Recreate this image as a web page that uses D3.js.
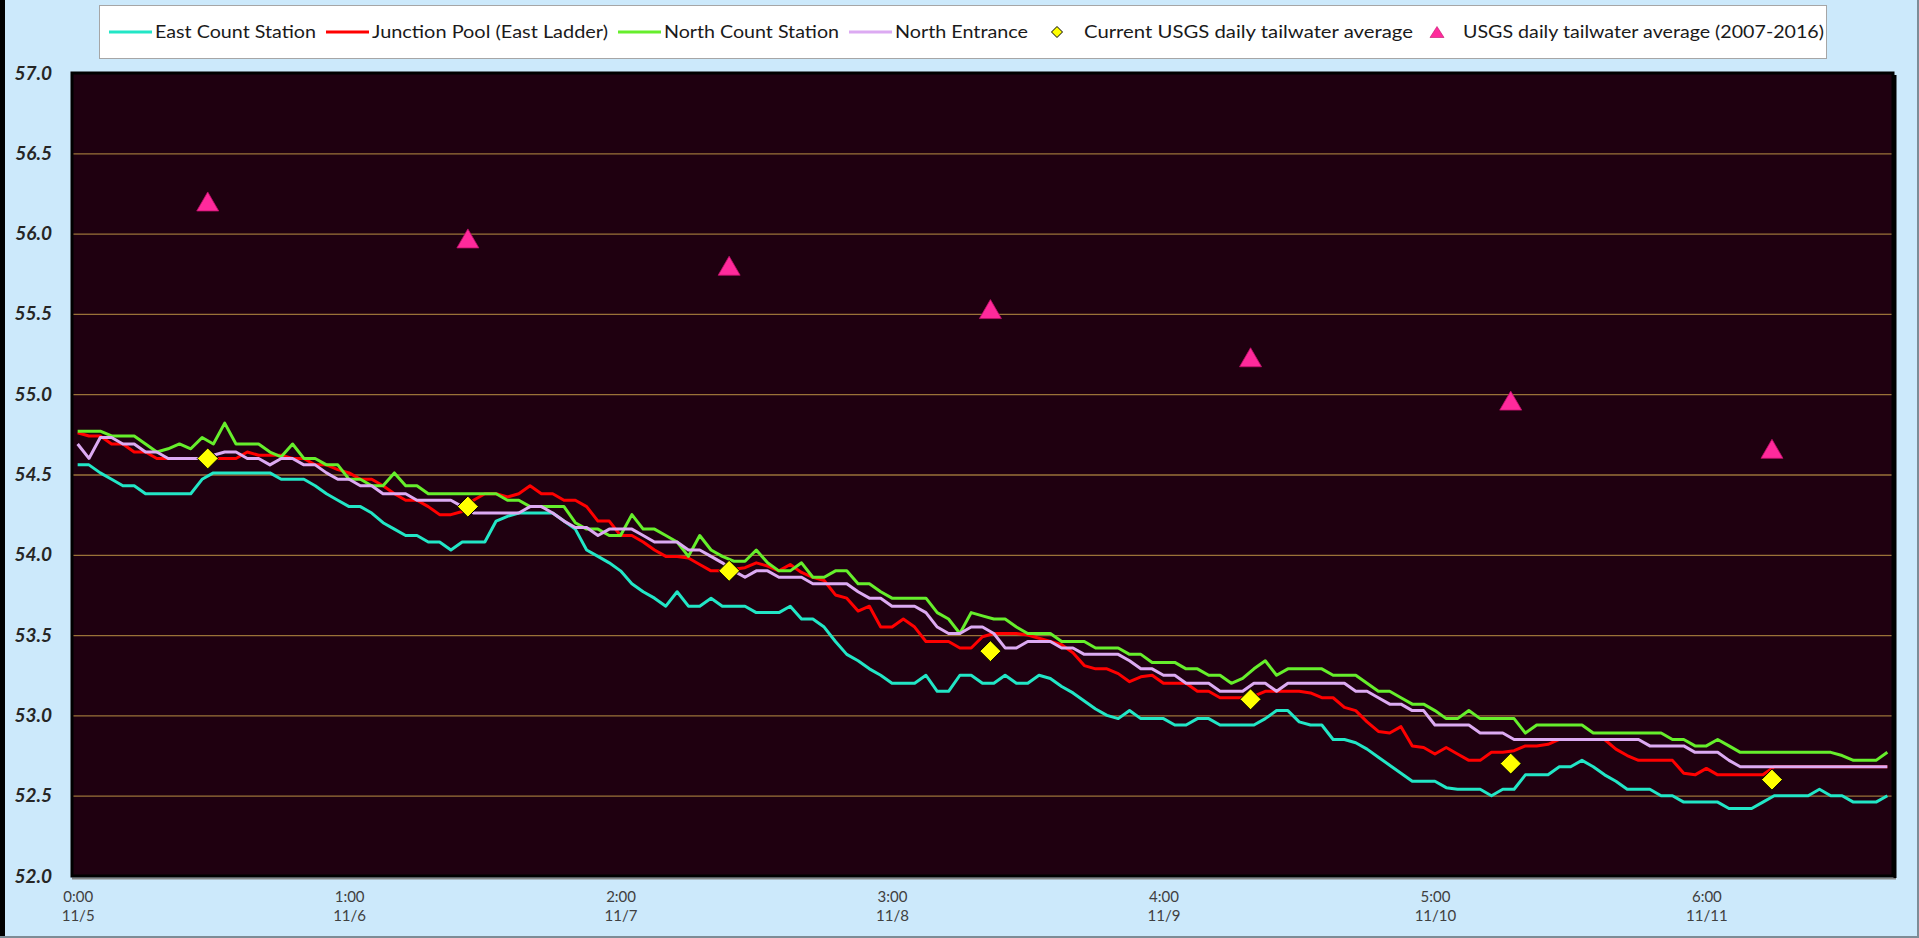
<!DOCTYPE html>
<html>
<head>
<meta charset="utf-8">
<script src="https://cdn.jsdelivr.net/npm/d3@7"></script>
<style>
  body { margin: 0; background: #cce9fb; }
  svg { display: block; }
</style>
</head>
<body>
<div id="vis"></div>
<script>
// hourly readings, 11/5 0:00 onward (one value per hour)
const eastCount = [
  54.56, 54.56, 54.51, 54.47, 54.43, 54.43, 54.38, 54.38, 54.38, 54.38,
  54.38, 54.47, 54.51, 54.51, 54.51, 54.51, 54.51, 54.51, 54.47, 54.47,
  54.47, 54.43, 54.38, 54.34, 54.30, 54.30, 54.26, 54.20, 54.16, 54.12,
  54.12, 54.08, 54.08, 54.03, 54.08, 54.08, 54.08, 54.21, 54.24, 54.26,
  54.26, 54.26, 54.26, 54.21, 54.16, 54.03, 53.99, 53.95, 53.90, 53.82,
  53.77, 53.73, 53.68, 53.77, 53.68, 53.68, 53.73, 53.68, 53.68, 53.68,
  53.64, 53.64, 53.64, 53.68, 53.60, 53.60, 53.55, 53.46, 53.38, 53.34,
  53.29, 53.25, 53.20, 53.20, 53.20, 53.25, 53.15, 53.15, 53.25, 53.25,
  53.20, 53.20, 53.25, 53.20, 53.20, 53.25, 53.23, 53.18, 53.14, 53.09,
  53.04, 53.00, 52.98, 53.03, 52.98, 52.98, 52.98, 52.94, 52.94, 52.98,
  52.98, 52.94, 52.94, 52.94, 52.94, 52.98, 53.03, 53.03, 52.96, 52.94,
  52.94, 52.85, 52.85, 52.83, 52.79, 52.74, 52.69, 52.64, 52.59, 52.59,
  52.59, 52.55, 52.54, 52.54, 52.54, 52.50, 52.54, 52.54, 52.63, 52.63,
  52.63, 52.68, 52.68, 52.72, 52.68, 52.63, 52.59, 52.54, 52.54, 52.54,
  52.50, 52.50, 52.46, 52.46, 52.46, 52.46, 52.42, 52.42, 52.42, 52.46,
  52.50, 52.50, 52.50, 52.50, 52.54, 52.50, 52.50, 52.46, 52.46, 52.46,
  52.50
];
const junctionPool = [
  54.76, 54.74, 54.74, 54.69, 54.69, 54.64, 54.64, 54.60, 54.60, 54.60,
  54.60, 54.60, 54.60, 54.60, 54.60, 54.64, 54.62, 54.62, 54.62, 54.60,
  54.60, 54.56, 54.56, 54.53, 54.51, 54.47, 54.47, 54.43, 54.38, 54.34,
  54.34, 54.30, 54.25, 54.25, 54.27, 54.34, 54.38, 54.38, 54.36, 54.38,
  54.43, 54.38, 54.38, 54.34, 54.34, 54.30, 54.21, 54.21, 54.12, 54.12,
  54.08, 54.03, 53.99, 53.99, 53.98, 53.94, 53.90, 53.90, 53.91, 53.92,
  53.95, 53.93, 53.90, 53.94, 53.89, 53.86, 53.84, 53.75, 53.73, 53.65,
  53.68, 53.55, 53.55, 53.60, 53.55, 53.46, 53.46, 53.46, 53.42, 53.42,
  53.49, 53.51, 53.51, 53.51, 53.50, 53.48, 53.46, 53.44, 53.39, 53.31,
  53.29, 53.29, 53.26, 53.21, 53.24, 53.25, 53.20, 53.20, 53.20, 53.15,
  53.15, 53.11, 53.11, 53.11, 53.12, 53.15, 53.15, 53.15, 53.15, 53.14,
  53.11, 53.11, 53.05, 53.03, 52.96, 52.90, 52.89, 52.93, 52.81, 52.80,
  52.76, 52.80, 52.76, 52.72, 52.72, 52.77, 52.77, 52.78, 52.81, 52.81,
  52.82, 52.85, 52.85, 52.85, 52.85, 52.85, 52.79, 52.75, 52.72, 52.72,
  52.72, 52.72, 52.64, 52.63, 52.67, 52.63, 52.63, 52.63, 52.63, 52.63,
  52.68, 52.68, 52.68, 52.68, 52.68, 52.68, 52.68, 52.68, 52.68, 52.68,
  52.68
];
const northCount = [
  54.77, 54.77, 54.77, 54.74, 54.74, 54.74, 54.69, 54.64, 54.66, 54.69,
  54.66, 54.73, 54.69, 54.82, 54.69, 54.69, 54.69, 54.64, 54.61, 54.69,
  54.60, 54.60, 54.56, 54.56, 54.47, 54.47, 54.43, 54.43, 54.51, 54.43,
  54.43, 54.38, 54.38, 54.38, 54.38, 54.38, 54.38, 54.38, 54.34, 54.34,
  54.30, 54.30, 54.30, 54.30, 54.20, 54.16, 54.16, 54.12, 54.12, 54.25,
  54.16, 54.16, 54.12, 54.08, 53.99, 54.12, 54.03, 53.99, 53.96, 53.96,
  54.03, 53.95, 53.90, 53.90, 53.95, 53.86, 53.86, 53.90, 53.90, 53.82,
  53.82, 53.77, 53.73, 53.73, 53.73, 53.73, 53.64, 53.60, 53.51, 53.64,
  53.62, 53.60, 53.60, 53.55, 53.51, 53.51, 53.51, 53.46, 53.46, 53.46,
  53.42, 53.42, 53.42, 53.38, 53.38, 53.33, 53.33, 53.33, 53.29, 53.29,
  53.25, 53.25, 53.20, 53.23, 53.29, 53.34, 53.25, 53.29, 53.29, 53.29,
  53.29, 53.25, 53.25, 53.25, 53.20, 53.15, 53.15, 53.11, 53.07, 53.07,
  53.03, 52.98, 52.98, 53.03, 52.98, 52.98, 52.98, 52.98, 52.89, 52.94,
  52.94, 52.94, 52.94, 52.94, 52.89, 52.89, 52.89, 52.89, 52.89, 52.89,
  52.89, 52.85, 52.85, 52.81, 52.81, 52.85, 52.81, 52.77, 52.77, 52.77,
  52.77, 52.77, 52.77, 52.77, 52.77, 52.77, 52.75, 52.72, 52.72, 52.72,
  52.77
];
const northEntrance = [
  54.69, 54.60, 54.73, 54.73, 54.69, 54.69, 54.64, 54.64, 54.60, 54.60,
  54.60, 54.60, 54.62, 54.64, 54.64, 54.60, 54.60, 54.56, 54.60, 54.60,
  54.56, 54.56, 54.51, 54.47, 54.47, 54.43, 54.43, 54.38, 54.38, 54.38,
  54.34, 54.34, 54.34, 54.34, 54.30, 54.26, 54.26, 54.26, 54.26, 54.26,
  54.30, 54.30, 54.26, 54.21, 54.17, 54.17, 54.12, 54.16, 54.16, 54.16,
  54.12, 54.08, 54.08, 54.08, 54.03, 54.03, 53.99, 53.95, 53.90, 53.86,
  53.90, 53.90, 53.86, 53.86, 53.86, 53.82, 53.82, 53.82, 53.82, 53.77,
  53.73, 53.73, 53.68, 53.68, 53.68, 53.64, 53.55, 53.51, 53.51, 53.55,
  53.55, 53.51, 53.42, 53.42, 53.46, 53.46, 53.46, 53.42, 53.42, 53.38,
  53.38, 53.38, 53.38, 53.34, 53.29, 53.29, 53.25, 53.25, 53.20, 53.20,
  53.20, 53.15, 53.15, 53.15, 53.20, 53.20, 53.15, 53.20, 53.20, 53.20,
  53.20, 53.20, 53.20, 53.15, 53.15, 53.11, 53.07, 53.07, 53.03, 53.03,
  52.94, 52.94, 52.94, 52.94, 52.89, 52.89, 52.89, 52.85, 52.85, 52.85,
  52.85, 52.85, 52.85, 52.85, 52.85, 52.85, 52.85, 52.85, 52.85, 52.81,
  52.81, 52.81, 52.81, 52.77, 52.77, 52.77, 52.72, 52.68, 52.68, 52.68,
  52.68, 52.68, 52.68, 52.68, 52.68, 52.68, 52.68, 52.68, 52.68, 52.68,
  52.68
];

// daily USGS values, placed at these hour positions
const usgsHours = [11.5, 34.5, 57.6, 80.7, 103.7, 126.7, 149.8];
const usgsCurrent = [54.6, 54.3, 53.9, 53.4, 53.1, 52.7, 52.6];
const usgsHistoric = [56.2, 55.97, 55.8, 55.53, 55.23, 54.96, 54.66];

// axis labels
const tickHours = [0, 24, 48, 72, 96, 120, 144];
const tickTimes = ["0:00", "1:00", "2:00", "3:00", "4:00", "5:00", "6:00"];
const tickDates = ["11/5", "11/6", "11/7", "11/8", "11/9", "11/10", "11/11"];
const yTicks = [52.0, 52.5, 53.0, 53.5, 54.0, 54.5, 55.0, 55.5, 56.0, 56.5, 57.0];

const lineSeries = [
  {name: "East Count Station", values: eastCount, color: "#22e6c6"},
  {name: "Junction Pool (East Ladder)", values: junctionPool, color: "#ff0000"},
  {name: "North Count Station", values: northCount, color: "#66ee2c"},
  {name: "North Entrance", values: northEntrance, color: "#dcaaf2"}
];

let W = 1919, H = 938;
let plot = {left: 72, right: 1893, top: 73, bottom: 876};

let svg = d3.select('#vis')
  .append('svg')
  .attr('width', W)
  .attr('height', H)
  .style('background-color', '#cce9fb');

// frame of the picture
svg.append('rect').attr('x', 0).attr('y', 0).attr('width', 5).attr('height', H).style('fill', '#000');
svg.append('line').attr('x1', 0).attr('x2', W).attr('y1', H - 1).attr('y2', H - 1)
  .style('stroke', '#7d8c96').style('stroke-width', 2);
svg.append('line').attr('x1', W - 1).attr('x2', W - 1).attr('y1', 0).attr('y2', H)
  .style('stroke', '#7d8c96').style('stroke-width', 2);

let x = d3.scaleLinear()
  .domain([-0.5, eastCount.length - 0.5])
  .range([plot.left, plot.right]);
let y = d3.scaleLinear()
  .domain([52, 57])
  .range([plot.bottom, plot.top]);

// plot area with shadow
svg.append('line').attr('x1', plot.left).attr('x2', plot.right + 3)
  .attr('y1', plot.bottom + 2.5).attr('y2', plot.bottom + 2.5)
  .style('stroke', '#858585').style('stroke-width', 2);
svg.append('line').attr('x1', plot.right + 2).attr('x2', plot.right + 2)
  .attr('y1', plot.top + 2).attr('y2', plot.bottom + 2)
  .style('stroke', '#000').style('stroke-width', 3);
svg.append('rect')
  .attr('x', plot.left).attr('y', plot.top)
  .attr('width', plot.right - plot.left).attr('height', plot.bottom - plot.top)
  .style('fill', '#1f0010')
  .style('stroke', '#000')
  .style('stroke-width', 3);

// gridlines
svg.append('g')
  .attr('class', 'grid')
  .attr('transform', `translate(${plot.left + 1.5},0)`)
  .call(d3.axisLeft(y).tickValues(yTicks.slice(1, -1)).tickSize(-(plot.right - plot.left - 3)).tickFormat(''))
  .call(g => g.select('.domain').remove())
  .selectAll('line')
  .style('stroke', '#9a7238')
  .style('stroke-width', 1.3);

// y axis labels
svg.append('g')
  .attr('transform', 'translate(52,0)')
  .call(d3.axisLeft(y).tickValues(yTicks).tickFormat(d3.format('.1f')).tickSize(0).tickPadding(0))
  .call(g => g.select('.domain').remove())
  .selectAll('text')
  .style('font-family', 'Lato, "Open Sans", sans-serif')
  .style('font-size', '19px')
  .style('font-weight', 'bold')
  .style('font-style', 'italic')
  .style('fill', '#262626');

// x axis labels (two lines)
let xAxis = svg.append('g')
  .attr('transform', `translate(0,${plot.bottom})`)
  .call(d3.axisBottom(x).tickValues(tickHours).tickSize(0).tickFormat(''));
xAxis.select('.domain').remove();
xAxis.selectAll('.tick text')
  .attr('y', 0).attr('dy', null)
  .style('font-family', 'Lato, "Open Sans", sans-serif')
  .style('font-size', '15px')
  .style('fill', '#404040')
  .each(function (d, i) {
    let t = d3.select(this);
    t.append('tspan').attr('x', 0).attr('y', 26).text(tickTimes[i]);
    t.append('tspan').attr('x', 0).attr('y', 45).text(tickDates[i]);
  });

// lines
let line = d3.line()
  .x((d, i) => x(i))
  .y(d => y(d));

svg.selectAll('.series')
  .data(lineSeries)
  .enter()
  .append('path')
  .attr('class', 'series')
  .attr('d', d => line(d.values))
  .style('fill', 'none')
  .style('stroke', d => d.color)
  .style('stroke-width', 3)
  .style('stroke-linejoin', 'round');

// markers
const diamond = r => `M0,${-r}L${r},0L0,${r}L${-r},0Z`;
const triangle = (w, h) => `M0,${-h / 2}L${w / 2},${h / 2}L${-w / 2},${h / 2}Z`;

svg.selectAll('.current')
  .data(usgsCurrent)
  .enter()
  .append('path')
  .attr('class', 'current')
  .attr('transform', (d, i) => `translate(${x(usgsHours[i])},${y(d)})`)
  .attr('d', diamond(10.5))
  .style('fill', '#ffff00')
  .style('stroke', '#000')
  .style('stroke-width', 1);

svg.selectAll('.historic')
  .data(usgsHistoric)
  .enter()
  .append('path')
  .attr('class', 'historic')
  .attr('transform', (d, i) => `translate(${x(usgsHours[i])},${y(d)})`)
  .attr('d', triangle(22, 19))
  .style('fill', '#ff2a9c')
  .style('stroke', '#c0106a')
  .style('stroke-width', 0.8);

// legend
svg.append('rect')
  .attr('x', 99.5).attr('y', 5.5)
  .attr('width', 1727).attr('height', 53)
  .style('fill', '#fff')
  .style('stroke', '#a6a6a6')
  .style('stroke-width', 1);

let legendItems = [
  {label: lineSeries[0].name, kind: 'line', color: lineSeries[0].color, tw: 161},
  {label: lineSeries[1].name, kind: 'line', color: lineSeries[1].color, tw: 236},
  {label: lineSeries[2].name, kind: 'line', color: lineSeries[2].color, tw: 175},
  {label: lineSeries[3].name, kind: 'line', color: lineSeries[3].color, tw: 133},
  {label: 'Current USGS daily tailwater average', kind: 'diamond', tw: 329},
  {label: 'USGS daily tailwater average (2007-2016)', kind: 'triangle', tw: 361}
];

let lx = 109, ly = 32;
legendItems.forEach(function (item) {
  let tx;
  if (item.kind === 'line') {
    svg.append('line')
      .attr('x1', lx).attr('x2', lx + 43).attr('y1', ly).attr('y2', ly)
      .style('stroke', item.color).style('stroke-width', 3);
    tx = lx + 46;
  } else if (item.kind === 'diamond') {
    svg.append('path')
      .attr('transform', `translate(${lx + 19},${ly})`)
      .attr('d', diamond(5.5))
      .style('fill', '#ffff00').style('stroke', '#000').style('stroke-width', 1);
    tx = lx + 46;
  } else {
    svg.append('path')
      .attr('transform', `translate(${lx + 14},${ly})`)
      .attr('d', triangle(14, 11))
      .style('fill', '#ff2a9c').style('stroke', '#c0106a').style('stroke-width', 0.6);
    tx = lx + 40;
  }
  svg.append('text')
    .attr('x', tx).attr('y', ly)
    .attr('dy', '0.35em')
    .attr('textLength', item.tw)
    .attr('lengthAdjust', 'spacingAndGlyphs')
    .style('font-family', 'Lato, "Open Sans", sans-serif')
    .style('font-size', '17px')
    .style('fill', '#1a1a1a')
    .text(item.label);
  lx = tx + item.tw + 10;
});
</script>
</body>
</html>
